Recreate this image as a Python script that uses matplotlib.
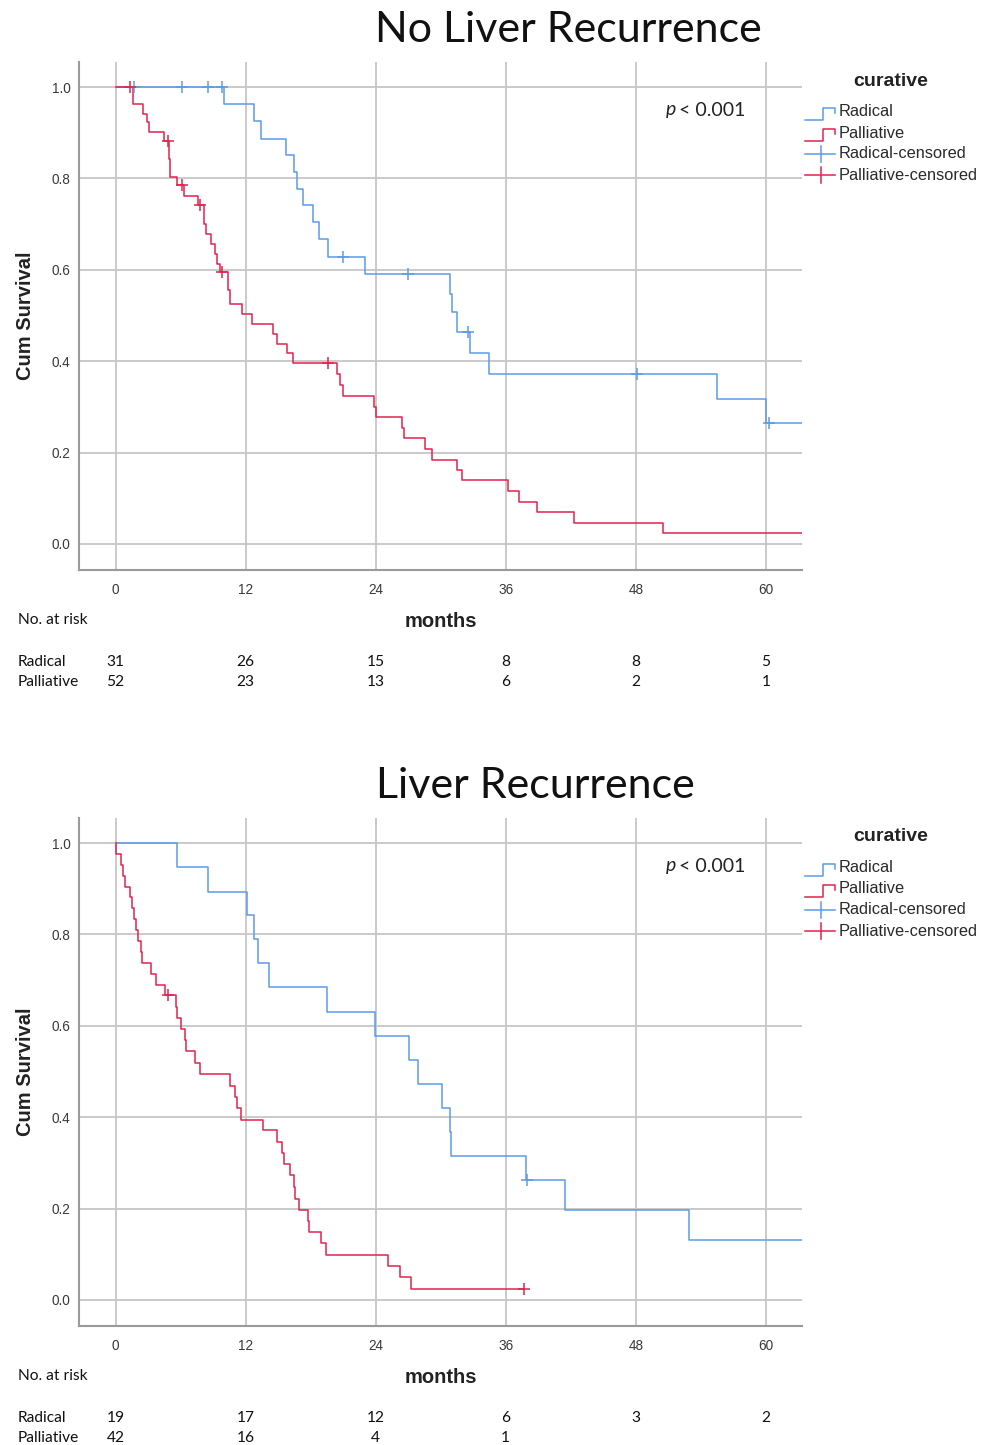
import numpy as np
import matplotlib.pyplot as plt

# --- values ---
month_ticks = [0, 12, 24, 36, 48, 60]
surv_ticks = [0.0, 0.2, 0.4, 0.6, 0.8, 1.0]
group_names = ['Radical', 'Palliative']
legend_labels = ['Radical', 'Palliative', 'Radical-censored', 'Palliative-censored']
end_month = 63.3

# No liver recurrence
nl_rad_t = [0, 10.0, 12.8, 13.4, 15.7, 16.5, 16.7, 17.3, 18.2, 18.8, 19.6, 23.0,
            30.9, 31.0, 31.5, 32.7, 34.5, 55.5, 60.0]
nl_rad_s = [1.0, 0.964, 0.925, 0.887, 0.851, 0.815, 0.778, 0.742, 0.704, 0.668, 0.629, 0.591,
            0.548, 0.507, 0.464, 0.418, 0.372, 0.318, 0.265]
nl_rad_cens = [1.7, 6.1, 8.5, 9.8, 21.0, 27.0, 32.5, 48.1, 60.3]

nl_pal_t = [0, 1.6, 2.5, 2.9, 3.05, 4.5, 4.9, 5.0, 5.7, 6.3, 7.64, 8.2, 8.35, 8.8, 9.2, 9.4,
            9.64, 10.4, 10.56, 11.64, 12.56, 14.56, 14.87, 15.79, 16.4, 20.4, 20.7, 20.96,
            23.88, 24.03, 26.46, 26.6, 28.55, 29.17, 31.53, 32.0, 36.24, 37.19, 38.85,
            42.33, 50.54]
nl_pal_s = [1.0, 0.964, 0.942, 0.923, 0.901, 0.882, 0.843, 0.803, 0.785, 0.761, 0.741, 0.701,
            0.679, 0.657, 0.635, 0.613, 0.595, 0.555, 0.526, 0.504, 0.482, 0.460, 0.438,
            0.418, 0.396, 0.371, 0.347, 0.323, 0.299, 0.278, 0.254, 0.232, 0.208, 0.184,
            0.162, 0.139, 0.115, 0.092, 0.069, 0.046, 0.023]
nl_pal_cens = [1.3, 4.8, 6.1, 7.8, 9.8, 19.6]

nl_risk_rad = [31, 26, 15, 8, 8, 5]
nl_risk_pal = [52, 23, 13, 6, 2, 1]

# Liver recurrence
lr_rad_t = [0, 5.67, 8.5, 12.16, 12.8, 13.17, 14.19, 19.54, 23.97, 27.1, 27.93, 30.15,
            30.9, 30.95, 37.87, 41.44, 52.93]
lr_rad_s = [1.0, 0.947, 0.894, 0.843, 0.790, 0.737, 0.684, 0.631, 0.578, 0.525, 0.473, 0.421,
            0.368, 0.316, 0.262, 0.197, 0.131]
lr_rad_cens = [38.0]

lr_pal_t = [0, 0.05, 0.5, 0.7, 0.85, 1.3, 1.55, 1.75, 1.9, 2.1, 2.35, 2.4, 3.27, 3.74, 4.57,
            5.6, 5.65, 6.04, 6.45, 6.5, 7.33, 7.8, 10.6, 11.0, 11.2, 11.6, 13.6, 14.87,
            15.4, 15.5, 16.1, 16.5, 16.56, 16.96, 17.79, 17.88, 19.0, 19.46, 25.17,
            26.24, 27.23]
lr_pal_s = [1.0, 0.976, 0.952, 0.929, 0.905, 0.881, 0.857, 0.833, 0.810, 0.786, 0.762, 0.738,
            0.714, 0.690, 0.667, 0.642, 0.617, 0.593, 0.568, 0.544, 0.519, 0.494, 0.469,
            0.444, 0.420, 0.395, 0.372, 0.345, 0.321, 0.297, 0.273, 0.247, 0.222, 0.198,
            0.173, 0.149, 0.124, 0.099, 0.074, 0.050, 0.025]
lr_pal_end = 37.7
lr_pal_cens = [4.8, 37.7]

lr_risk_rad = [19, 17, 12, 6, 3, 2]
lr_risk_pal = [42, 16, 4, 1]

BLUE = '#5b9be6'
RED = '#e2234e'
AX_W, AX_H = 723, 508   # axes size in pixels
AX_LEFT = 79


def step_at(times, surv, t):
    i = np.searchsorted(times, t, side='right') - 1
    return surv[i]


def draw_curve(ax, times, surv, cens, color, end):
    t = list(times) + [end]
    s = list(surv) + [surv[-1]]
    ax.step(t, s, where='post', color=color, lw=1.1, zorder=3)
    cy = [step_at(times, surv, c) for c in cens]
    ax.plot(cens, cy, ls='none', marker='+', ms=8, mew=1.1, color=color, zorder=4)


def pxy(px, off):
    # pixel x, pixel offset from axes top -> axes fraction
    return (px - AX_LEFT) / AX_W, 1 - off / AX_H


def draw_panel(ax, rad, pal, risk_rad, risk_pal, pal_end):
    draw_curve(ax, rad[0], rad[1], rad[2], BLUE, end_month)
    draw_curve(ax, pal[0], pal[1], pal[2], RED, pal_end)

    ax.set_xlim(-3.37, 63.33)
    ax.set_ylim(-0.057, 1.055)
    ax.set_xticks(month_ticks)
    ax.set_yticks(surv_ticks)
    ax.set_yticklabels([f'{v:.1f}' for v in surv_ticks])
    ax.grid(True, color='#c6c6c6', lw=1.3)
    ax.set_axisbelow(True)
    ax.tick_params(length=0, labelsize=9.8, labelcolor='#3a3a3a')
    ax.tick_params(axis='x', pad=9)
    ax.tick_params(axis='y', pad=6)
    for sp in ['top', 'right']:
        ax.spines[sp].set_visible(False)
    for sp in ['left', 'bottom']:
        ax.spines[sp].set_color('#9a9a9a')
        ax.spines[sp].set_linewidth(1.5)
    for lab in ax.get_xticklabels() + ax.get_yticklabels():
        lab.set_family('Liberation Sans')

    ax.set_ylabel('Cum Survival', fontsize=14.5, fontweight='bold',
                  family='Liberation Sans', color='#222222', labelpad=12)
    ax.text(0.5, -0.102, 'months', transform=ax.transAxes, ha='center', va='center',
            fontsize=14.5, fontweight='bold', family='Liberation Sans', color='#222222')

    # p value
    x, y = pxy(676, 48)
    ax.text(x, y, 'p', transform=ax.transAxes, ha='right', va='center',
            fontsize=14, style='italic', family='Lato', color='#222222')
    x, y = pxy(679, 48)
    ax.text(x, y, '< 0.001', transform=ax.transAxes, ha='left', va='center',
            fontsize=14, family='Lato', color='#222222')

    # legend drawn by hand (step icons)
    x, y = pxy(891, 19)
    ax.text(x, y, 'curative', transform=ax.transAxes, ha='center', va='center',
            fontsize=14, fontweight='bold', family='Liberation Sans', color='#222222',
            clip_on=False)
    offs = [50, 71, 92, 113]
    cols = [BLUE, RED, BLUE, RED]
    for i, (lab, off, c) in enumerate(zip(legend_labels, offs, cols)):
        if i < 2:
            xs = [805, 823, 823, 835, 835]
            ys = [off + 8, off + 8, off - 4, off - 4, off + 1]
            pts = [pxy(a, b) for a, b in zip(xs, ys)]
            ax.plot([p[0] for p in pts], [p[1] for p in pts], color=c, lw=1.1,
                    transform=ax.transAxes, clip_on=False)
        else:
            a = pxy(805, off)
            b = pxy(835, off)
            ax.plot([a[0], b[0]], [a[1], b[1]], color=c, lw=1.1,
                    transform=ax.transAxes, clip_on=False)
            a = pxy(821, off - 8)
            b = pxy(821, off + 8)
            ax.plot([a[0], b[0]], [a[1], b[1]], color=c, lw=1.1,
                    transform=ax.transAxes, clip_on=False)
        x, y = pxy(839, off)
        ax.text(x, y, lab, transform=ax.transAxes, ha='left', va='center', fontsize=11.8,
                family='Liberation Sans', color='#2a2a2a', clip_on=False)

    # numbers at risk
    trans = ax.get_xaxis_transform()
    lx = (18 - AX_LEFT) / AX_W
    ax.text(lx, -0.0984, 'No. at risk', transform=ax.transAxes, ha='left', va='center',
            fontsize=11.2, family='Lato', color='#111111')
    for name, row, yy in zip(group_names, [risk_rad, risk_pal], [-0.181, -0.2205]):
        ax.text(lx, yy, name, transform=ax.transAxes, ha='left', va='center',
                fontsize=11.2, family='Lato', color='#111111')
        for m, n in zip(month_ticks, row):
            ax.text(m, yy, str(n), transform=trans, ha='center', va='center',
                    fontsize=11.2, family='Lato', color='#111111')


fig = plt.figure(figsize=(9.86, 14.45), dpi=100)
ax1 = fig.add_axes([AX_LEFT / 986, 1 - 570 / 1445, AX_W / 986, AX_H / 1445])
ax2 = fig.add_axes([AX_LEFT / 986, 1 - 1326 / 1445, AX_W / 986, AX_H / 1445])

draw_panel(ax1, (nl_rad_t, nl_rad_s, nl_rad_cens), (nl_pal_t, nl_pal_s, nl_pal_cens),
           nl_risk_rad, nl_risk_pal, end_month)
draw_panel(ax2, (lr_rad_t, lr_rad_s, lr_rad_cens), (lr_pal_t, lr_pal_s, lr_pal_cens),
           lr_risk_rad, lr_risk_pal, lr_pal_end)

fig.text(568 / 986, 1 - 30 / 1445, 'No Liver Recurrence', ha='center', va='center',
         fontsize=31, family='Lato', color='#111111')
fig.text(535 / 986, 1 - 786 / 1445, 'Liver Recurrence', ha='center', va='center',
         fontsize=31, family='Lato', color='#111111')

fig.savefig('out.png', dpi=100, facecolor='white')
